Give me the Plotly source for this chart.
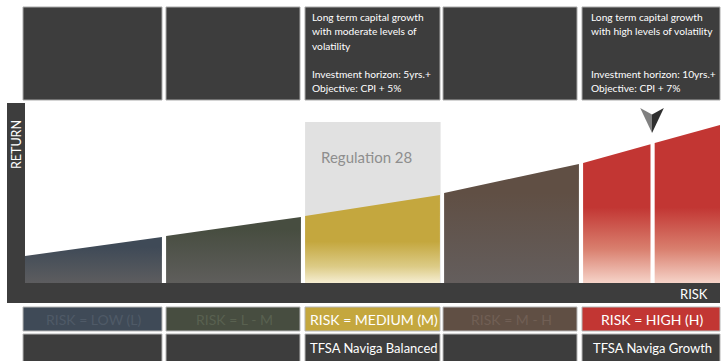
import plotly.graph_objects as go

# ---------------- data ----------------
risk_labels = ["RISK = LOW (L)", "RISK = L - M", "RISK = MEDIUM (M)", "RISK = M - H", "RISK = HIGH (H)"]
return_start = [15.0, 26.1, 37.2, 50.0, 66.7]   # return level at left edge of each risk band
return_end = [25.6, 36.7, 48.9, 66.1, 87.8]     # return level at right edge of each risk band
fund_names = ["", "", "TFSA Naviga Balanced", "", "TFSA Naviga Growth"]
descriptions = [
    [],
    [],
    ["Long term capital growth", "with moderate levels of", "volatility", "",
     "Investment horizon: 5yrs.+", "Objective: CPI + 5%"],
    [],
    ["Long term capital growth", "with high levels of volatility", "", "",
     "Investment horizon: 10yrs.+", "Objective: CPI + 7%"],
]
regulation_label = "Regulation 28"
regulation_level = 89.4
fund_marker_risk = 4.515

# ---------------- styling ----------------
W, H = 725, 361
DARK = "#3d3d3d"
FONT = "Lato"
band_colors = ["#3f4a57", "#474d40", "#c4a73e", "#604f44", "#c23633"]
label_text_colors = ["#4f5a67", "#596150", "#ffffff", "#715f55", "#ffffff"]
gradients = [
    dict(scale=[[0, "#5d5d5f"], [1, "#3f4a57"]], stop=20),
    dict(scale=[[0, "#5f5e5c"], [1, "#474d40"]], stop=30),
    dict(scale=[[0, "#f6eed2"], [0.4, "#dccb86"], [1, "#c4a73e"]], stop=23),
    dict(scale=[[0, "#645e5d"], [1, "#604f44"]], stop=50),
    dict(scale=[[0, "#f6d4c9"], [0.45, "#d97f6e"], [1, "#c23633"]], stop=42),
]
box_cols = [(23, 162), (166, 300), (305, 440), (443, 577), (582, 720)]
text_offsets = [6, 6, 5, 6, 7]

def px(x):
    return x / W

def py(y):
    return 1 - y / H

fig = go.Figure()

# chart area: x = risk band 0..5, y = return 0..100
PLOT_L, PLOT_R, PLOT_T, PLOT_B = 25, 720, 103, 283
gap = 0.015
for i in range(5):
    x0 = i + (gap if i > 0 else 0)
    x1 = i + 1 - (gap if i < 4 else 0)
    slope = (return_end[i] - return_start[i]) / (x1 - x0)
    segments = [(x0, x1)]
    if i == 4:
        segments = [(x0, fund_marker_risk - gap), (fund_marker_risk + gap, x1)]
    for a, b in segments:
        ya = return_start[i] + slope * (a - x0)
        yb = return_start[i] + slope * (b - x0)
        fig.add_trace(go.Scatter(
            x=[a, a, b, b, a], y=[0, ya, yb, 0, 0],
            mode="lines", fill="toself", line=dict(width=0),
            fillgradient=dict(type="vertical", colorscale=gradients[i]["scale"],
                              start=0, stop=gradients[i]["stop"]),
            hoverinfo="skip", showlegend=False,
        ))

shapes = []
# Regulation 28 box behind the medium band
shapes.append(dict(type="rect", xref="x", yref="y", x0=2 + gap, x1=3 - gap + 0.005,
                   y0=0, y1=regulation_level, fillcolor="#e1e1e1", line=dict(width=0),
                   layer="below"))

# frame: left bar and bottom bar
shapes.append(dict(type="rect", xref="paper", yref="paper", x0=px(7), x1=px(25),
                   y0=py(303), y1=py(103), fillcolor=DARK, line=dict(width=0)))
shapes.append(dict(type="rect", xref="paper", yref="paper", x0=px(7), x1=px(720),
                   y0=py(303), y1=py(283), fillcolor=DARK, line=dict(width=0)))

# top description boxes, label row, fund row
for i, (a, b) in enumerate(box_cols):
    shapes.append(dict(type="rect", xref="paper", yref="paper", x0=px(a), x1=px(b),
                       y0=py(100), y1=py(7), fillcolor=DARK,
                       line=dict(color="#a9a9a9", width=1)))
    shapes.append(dict(type="rect", xref="paper", yref="paper", x0=px(a), x1=px(b),
                       y0=py(331), y1=py(307), fillcolor=band_colors[i],
                       line=dict(color="#b5b5b5", width=1)))
    shapes.append(dict(type="rect", xref="paper", yref="paper", x0=px(a), x1=px(b),
                       y0=py(362), y1=py(334), fillcolor=DARK,
                       line=dict(color="#b5b5b5", width=1)))

# fund marker arrow above the high band
tip = 83.3
top = 97.2
notch = 93.6
hw = 0.085
xc = fund_marker_risk - 0.004
shapes.append(dict(type="path", xref="x", yref="y",
                   path=f"M {xc-hw},{top} L {xc},{notch} L {xc},{tip} Z",
                   fillcolor="#808080", line=dict(width=0)))
shapes.append(dict(type="path", xref="x", yref="y",
                   path=f"M {xc},{notch} L {xc+hw},{top} L {xc},{tip} Z",
                   fillcolor="#2f2f2f", line=dict(width=0)))

annotations = []
# description text
line_y = [17, 31.5, 46, 60, 74, 88]
for i, lines in enumerate(descriptions):
    for j, t in enumerate(lines):
        if not t:
            continue
        annotations.append(dict(xref="paper", yref="paper", x=px(box_cols[i][0] + text_offsets[i]),
                                y=py(line_y[j]), xanchor="left", yanchor="middle",
                                text=t, showarrow=False,
                                font=dict(family=FONT, size=10.2, color="#ffffff")))
# labels and fund names
for i, (a, b) in enumerate(box_cols):
    annotations.append(dict(xref="paper", yref="paper", x=px((a + b) / 2 + 1), y=py(319.5),
                            xanchor="center", yanchor="middle", text=risk_labels[i],
                            showarrow=False,
                            font=dict(family=FONT, size=14, color=label_text_colors[i])))
    if fund_names[i]:
        annotations.append(dict(xref="paper", yref="paper", x=px((a + b) / 2 + 1), y=py(348),
                                xanchor="center", yanchor="middle", text=fund_names[i],
                                showarrow=False,
                                font=dict(family=FONT, size=13, color="#ffffff")))
# axis titles
annotations.append(dict(xref="paper", yref="paper", x=px(17), y=py(145), textangle=-90,
                        xanchor="center", yanchor="middle", text="RETURN", showarrow=False,
                        font=dict(family=FONT, size=12.5, color="#ffffff")))
annotations.append(dict(xref="paper", yref="paper", x=px(710), y=py(293.5),
                        xanchor="right", yanchor="middle", text="RISK", showarrow=False,
                        font=dict(family=FONT, size=13, color="#ffffff")))
# regulation label
annotations.append(dict(xref="paper", yref="paper", x=px(319), y=py(157),
                        xanchor="left", yanchor="middle", text=regulation_label,
                        showarrow=False, font=dict(family=FONT, size=15, color="#8e8e8e")))

fig.update_layout(
    width=W, height=H, margin=dict(l=0, r=0, t=0, b=0),
    paper_bgcolor="#ffffff", plot_bgcolor="rgba(0,0,0,0)",
    xaxis=dict(range=[0, 5], domain=[px(PLOT_L), px(PLOT_R)], visible=False, fixedrange=True),
    yaxis=dict(range=[0, 100], domain=[py(PLOT_B), py(PLOT_T)], visible=False, fixedrange=True),
    shapes=shapes, annotations=annotations, showlegend=False,
)

fig.write_html("out.html", config={"displayModeBar": False})
